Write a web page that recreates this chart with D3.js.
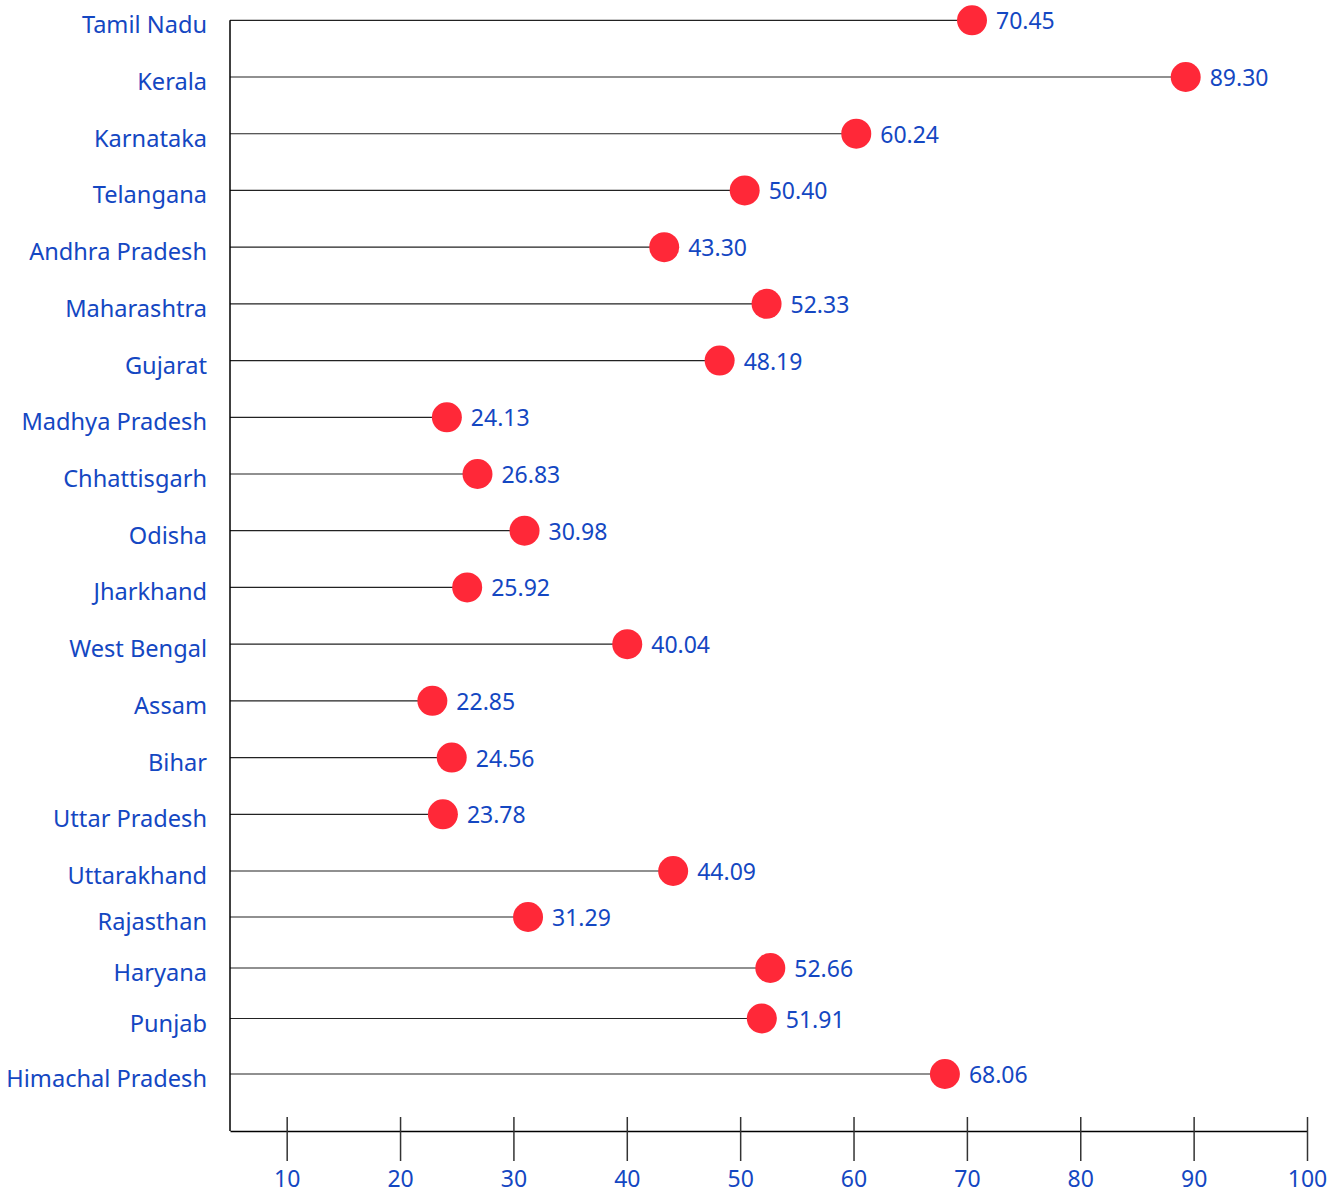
<!DOCTYPE html>
<html><head><meta charset="utf-8">
<script src="https://cdn.jsdelivr.net/npm/d3@7"></script>
<style>body{margin:0;background:#fff}svg{display:block}</style>
</head><body>
<script>
const states = ["Tamil Nadu","Kerala","Karnataka","Telangana","Andhra Pradesh","Maharashtra","Gujarat","Madhya Pradesh","Chhattisgarh","Odisha","Jharkhand","West Bengal","Assam","Bihar","Uttar Pradesh","Uttarakhand","Rajasthan","Haryana","Punjab","Himachal Pradesh"];
const values = [70.45,89.30,60.24,50.40,43.30,52.33,48.19,24.13,26.83,30.98,25.92,40.04,22.85,24.56,23.78,44.09,31.29,52.66,51.91,68.06];
const xTicks = [10,20,30,40,50,60,70,80,90,100];

const W = 1341, H = 1193;
const textColor = "#1447c2", dotColor = "#ff2838";
const font = "'Noto Sans', 'Open Sans', sans-serif";

const svg = d3.select("body").append("svg").attr("width", W).attr("height", H);

const x = d3.scaleLinear().domain([5, 100]).range([230, 1307]);
// piecewise row layout (index -> pixel)
const y = d3.scaleLinear().domain([0, 15, 16, 17, 18, 19]).range([20.3, 871, 917, 968, 1018.5, 1074]);

const axisY = 1131;

// stems
svg.append("g").selectAll("line").data(values).join("line")
  .attr("x1", x(5)).attr("x2", d => x(d))
  .attr("y1", (d, i) => y(i)).attr("y2", (d, i) => y(i))
  .attr("stroke", "#222").attr("stroke-width", 1.2);

// y axis line
svg.append("line").attr("x1", x(5)).attr("x2", x(5)).attr("y1", y(0)).attr("y2", axisY)
  .attr("stroke", "#000").attr("stroke-width", 1.5);

// x axis
const xAxis = d3.axisBottom(x).tickValues(xTicks).tickSizeInner(30).tickSizeOuter(0).tickPadding(4).tickFormat(d3.format("d"));
const gx = svg.append("g").attr("transform", `translate(0,${axisY})`).call(xAxis);
gx.select(".domain").attr("stroke", "#000").attr("stroke-width", 1.5);
gx.selectAll(".tick line").attr("y1", -14).attr("y2", 30).attr("stroke", "#333").attr("stroke-width", 1.5);
gx.selectAll(".tick text").attr("fill", textColor).attr("font-size", 23).attr("font-family", font).attr("y", 56).attr("dy", null);

// dots
svg.append("g").selectAll("circle").data(values).join("circle")
  .attr("cx", d => x(d)).attr("cy", (d, i) => y(i)).attr("r", 15).attr("fill", dotColor);

// value labels
svg.append("g").selectAll("text").data(values).join("text")
  .attr("x", d => x(d) + 24).attr("y", (d, i) => y(i) + 9)
  .attr("fill", textColor).attr("font-size", 23).attr("font-family", font)
  .text(d => d.toFixed(2));

// state labels
svg.append("g").selectAll("text").data(states).join("text")
  .attr("x", 207).attr("y", (d, i) => y(i) + 13)
  .attr("text-anchor", "end")
  .attr("fill", textColor).attr("font-size", 23.6).attr("font-family", font)
  .text(d => d);
</script>
</body></html>
